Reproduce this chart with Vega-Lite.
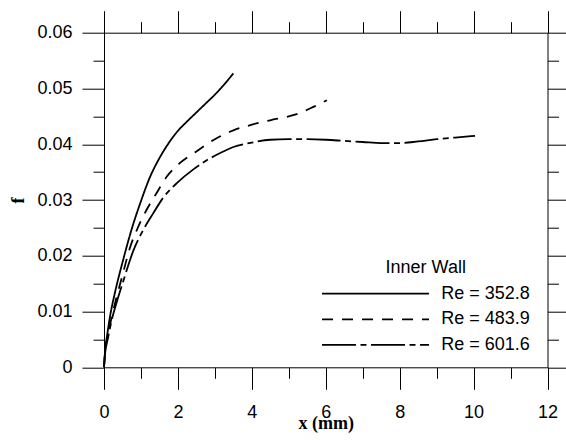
{
  "$schema": "https://vega.github.io/schema/vega-lite/v6.json",
  "autosize": "none",
  "width": 443.5,
  "height": 334.6,
  "padding": {"left": 104, "top": 32.7, "right": 18.5, "bottom": 72.7},
  "background": "white",
  "config": {
    "view": {"stroke": null},
    "axis": {
      "domainColor": "black", "domainWidth": 1, "tickColor": "black", "tickWidth": 1,
      "labelColor": "black", "labelFont": "Liberation Sans", "labelFontSize": 18,
      "titleColor": "black", "titleFont": "Liberation Serif", "titleFontWeight": "bold", "titleFontSize": 18,
      "grid": false
    },
    "legend": {
      "orient": "none", "legendX": 216.7, "legendY": 226, "padding": 0,
      "symbolType": "M-1,0H9", "symbolSize": 458, "symbolStrokeWidth": 1.8, "symbolStrokeColor": "black",
      "labelFont": "Liberation Sans", "labelFontSize": 18, "labelColor": "black", "labelOffset": 96.6,
      "titleFont": "Liberation Sans", "titleFontSize": 18, "titleFontWeight": "normal", "titleColor": "black",
      "titleAnchor": "middle", "titleAlign": "center", "titlePadding": 5, "rowPadding": 4.6
    }
  },
  "data": {
    "values": [
      {"s": "Re = 352.8", "x": 0, "f": 0},
      {"s": "Re = 352.8", "x": 0.03, "f": 0.003},
      {"s": "Re = 352.8", "x": 0.08, "f": 0.0055},
      {"s": "Re = 352.8", "x": 0.16, "f": 0.009},
      {"s": "Re = 352.8", "x": 0.3, "f": 0.0135},
      {"s": "Re = 352.8", "x": 0.5, "f": 0.0188},
      {"s": "Re = 352.8", "x": 0.75, "f": 0.0248},
      {"s": "Re = 352.8", "x": 1.0, "f": 0.0298},
      {"s": "Re = 352.8", "x": 1.25, "f": 0.0342},
      {"s": "Re = 352.8", "x": 1.5, "f": 0.0375},
      {"s": "Re = 352.8", "x": 1.75, "f": 0.0402},
      {"s": "Re = 352.8", "x": 2.0, "f": 0.0424},
      {"s": "Re = 352.8", "x": 2.25, "f": 0.0441},
      {"s": "Re = 352.8", "x": 2.5, "f": 0.0457},
      {"s": "Re = 352.8", "x": 2.75, "f": 0.0473},
      {"s": "Re = 352.8", "x": 3.0, "f": 0.0489},
      {"s": "Re = 352.8", "x": 3.25, "f": 0.0507},
      {"s": "Re = 352.8", "x": 3.5, "f": 0.0527},
      {"s": "Re = 483.9", "x": 0, "f": 0},
      {"s": "Re = 483.9", "x": 0.03, "f": 0.0028},
      {"s": "Re = 483.9", "x": 0.1, "f": 0.0055},
      {"s": "Re = 483.9", "x": 0.2, "f": 0.0088},
      {"s": "Re = 483.9", "x": 0.35, "f": 0.0128},
      {"s": "Re = 483.9", "x": 0.5, "f": 0.0165},
      {"s": "Re = 483.9", "x": 0.7, "f": 0.0214},
      {"s": "Re = 483.9", "x": 0.9, "f": 0.0248},
      {"s": "Re = 483.9", "x": 1.15, "f": 0.0282},
      {"s": "Re = 483.9", "x": 1.4, "f": 0.031},
      {"s": "Re = 483.9", "x": 1.7, "f": 0.0342},
      {"s": "Re = 483.9", "x": 2.05, "f": 0.0366},
      {"s": "Re = 483.9", "x": 2.5, "f": 0.0387},
      {"s": "Re = 483.9", "x": 3.0, "f": 0.0409},
      {"s": "Re = 483.9", "x": 3.5, "f": 0.0425},
      {"s": "Re = 483.9", "x": 4.0, "f": 0.0435},
      {"s": "Re = 483.9", "x": 4.5, "f": 0.0443},
      {"s": "Re = 483.9", "x": 5.0, "f": 0.045},
      {"s": "Re = 483.9", "x": 5.3, "f": 0.0456},
      {"s": "Re = 483.9", "x": 5.6, "f": 0.0465},
      {"s": "Re = 483.9", "x": 5.8, "f": 0.0471},
      {"s": "Re = 483.9", "x": 6.03, "f": 0.0479},
      {"s": "Re = 601.6", "x": 0, "f": 0},
      {"s": "Re = 601.6", "x": 0.03, "f": 0.0025},
      {"s": "Re = 601.6", "x": 0.1, "f": 0.005},
      {"s": "Re = 601.6", "x": 0.2, "f": 0.0082},
      {"s": "Re = 601.6", "x": 0.35, "f": 0.0118},
      {"s": "Re = 601.6", "x": 0.5, "f": 0.015},
      {"s": "Re = 601.6", "x": 0.8, "f": 0.021},
      {"s": "Re = 601.6", "x": 1.06, "f": 0.0246},
      {"s": "Re = 601.6", "x": 1.33, "f": 0.0276},
      {"s": "Re = 601.6", "x": 1.6, "f": 0.0304},
      {"s": "Re = 601.6", "x": 2.0, "f": 0.0332},
      {"s": "Re = 601.6", "x": 2.4, "f": 0.0354},
      {"s": "Re = 601.6", "x": 2.8, "f": 0.0372},
      {"s": "Re = 601.6", "x": 3.2, "f": 0.0386},
      {"s": "Re = 601.6", "x": 3.5, "f": 0.0395},
      {"s": "Re = 601.6", "x": 4.0, "f": 0.0403},
      {"s": "Re = 601.6", "x": 4.5, "f": 0.0408},
      {"s": "Re = 601.6", "x": 5.0, "f": 0.0409},
      {"s": "Re = 601.6", "x": 5.5, "f": 0.0409},
      {"s": "Re = 601.6", "x": 6.0, "f": 0.0408},
      {"s": "Re = 601.6", "x": 6.5, "f": 0.0406},
      {"s": "Re = 601.6", "x": 7.0, "f": 0.0404},
      {"s": "Re = 601.6", "x": 7.5, "f": 0.0402},
      {"s": "Re = 601.6", "x": 8.0, "f": 0.0402},
      {"s": "Re = 601.6", "x": 8.5, "f": 0.0405},
      {"s": "Re = 601.6", "x": 9.0, "f": 0.0409},
      {"s": "Re = 601.6", "x": 9.5, "f": 0.0412},
      {"s": "Re = 601.6", "x": 10.04, "f": 0.0415}
    ]
  },
  "layer": [
    {
      "mark": {"type": "line", "color": "black", "strokeWidth": 1.8, "interpolate": "monotone"},
      "encoding": {
        "x": {
          "field": "x", "type": "quantitative",
          "scale": {"domain": [0, 12], "nice": false, "zero": false},
          "axis": {
            "orient": "bottom", "title": "x (mm)", "values": [0,1,2,3,4,5,6,7,8,9,10,11,12],
            "tickSize": {"condition": {"test": "datum.value % 2 === 0", "value": 22}, "value": 11},
            "labelExpr": "datum.value % 2 === 0 ? datum.label : ''",
            "labelPadding": 14, "labelFlush": false, "labelOverlap": false,
            "titleY": 56, "titleBaseline": "middle"
          }
        },
        "y": {
          "field": "f", "type": "quantitative",
          "scale": {"domain": [0, 0.06], "nice": false, "zero": false},
          "axis": {
            "orient": "left", "title": "f",
            "values": [0,0.005,0.01,0.015,0.02,0.025,0.03,0.035,0.04,0.045,0.05,0.055,0.06],
            "tickSize": {"condition": {"test": "round(datum.value*200) % 2 === 0", "value": 22}, "value": 11},
            "labelExpr": "round(datum.value*200) % 2 === 0 ? (datum.value === 0 ? '0' : format(datum.value, '.2f')) : ''",
            "labelPadding": 10, "labelFlush": false, "labelOverlap": false,
            "titleX": -86, "titleY": 167.3, "titleBaseline": "middle", "titleAngle": -90
          }
        },
        "strokeDash": {
          "field": "s", "type": "nominal", "title": "Inner Wall",
          "scale": {"domain": ["Re = 352.8", "Re = 483.9", "Re = 601.6"], "range": [[1, 0], [11, 9], [34, 4.5, 6, 4.5]]}
        }
      }
    },
    {
      "mark": {"type": "line", "opacity": 0},
      "encoding": {
        "x": {
          "field": "x", "type": "quantitative",
          "scale": {"domain": [0, 12], "nice": false, "zero": false},
          "axis": {
            "orient": "top", "title": null, "labels": false, "values": [0,1,2,3,4,5,6,7,8,9,10,11,12],
            "tickSize": {"condition": {"test": "datum.value % 2 === 0", "value": 22}, "value": 11}
          }
        },
        "y": {
          "field": "f", "type": "quantitative",
          "scale": {"domain": [0, 0.06], "nice": false, "zero": false},
          "axis": {
            "orient": "right", "title": null, "labels": false,
            "values": [0,0.005,0.01,0.015,0.02,0.025,0.03,0.035,0.04,0.045,0.05,0.055,0.06],
            "tickSize": {"condition": {"test": "round(datum.value*200) % 2 === 0", "value": 22}, "value": 11}
          }
        },
        "detail": {"field": "s", "type": "nominal"}
      }
    }
  ],
  "resolve": {"axis": {"x": "independent", "y": "independent"}}
}
